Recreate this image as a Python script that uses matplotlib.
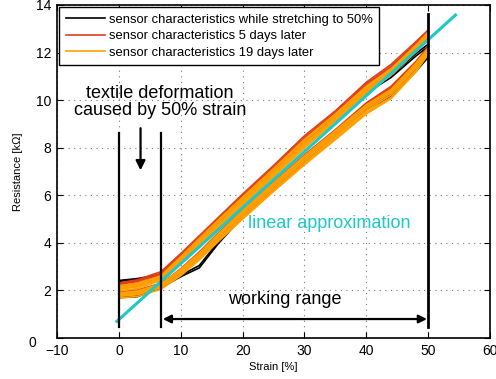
import matplotlib
matplotlib.use('Agg')
import matplotlib.pyplot as plt
import matplotlib.transforms as mtransforms

plt.rcParams['font.family'] = ['Liberation Sans', 'DejaVu Sans']

# strain grid shared by all recorded cycles [%]
strain = [0, 3, 6.8, 10, 13, 16, 20, 25, 30, 35, 40, 44, 48, 50]

# resistance [kOhm] per cycle, upper and lower branch of each loop
black_up = [
    [2.42, 2.50, 2.68, 3.40, 4.15, 4.90, 5.90, 7.10, 8.35, 9.40, 10.40, 11.05, 11.95, 12.35],
    [2.38, 2.46, 2.64, 3.32, 4.08, 4.84, 5.82, 7.02, 8.25, 9.30, 10.30, 10.95, 11.85, 12.25],
]
black_down = [
    [1.70, 1.74, 2.12, 2.58, 2.95, 3.95, 5.10, 6.25, 7.40, 8.50, 9.60, 10.15, 11.20, 11.80],
    [1.76, 1.80, 2.18, 2.64, 3.05, 4.02, 5.15, 6.30, 7.46, 8.56, 9.68, 10.25, 11.30, 11.90],
]
red_up = [
    [2.32, 2.45, 2.79, 3.55, 4.30, 5.05, 6.05, 7.25, 8.50, 9.55, 10.75, 11.50, 12.45, 12.95],
    [2.25, 2.38, 2.72, 3.48, 4.22, 4.98, 5.98, 7.18, 8.42, 9.48, 10.68, 11.42, 12.38, 12.88],
    [2.18, 2.30, 2.65, 3.42, 4.15, 4.92, 5.90, 7.10, 8.34, 9.40, 10.60, 11.35, 12.30, 12.80],
    [2.28, 2.40, 2.70, 3.38, 4.05, 4.78, 5.75, 6.95, 8.15, 9.25, 10.45, 11.20, 12.20, 12.75],
]
red_down = [
    [1.88, 1.95, 2.22, 2.80, 3.45, 4.20, 5.20, 6.40, 7.55, 8.60, 9.75, 10.45, 11.50, 12.15],
    [1.95, 2.02, 2.30, 2.86, 3.52, 4.28, 5.28, 6.46, 7.62, 8.68, 9.82, 10.52, 11.58, 12.22],
    [1.82, 1.88, 2.16, 2.74, 3.40, 4.14, 5.14, 6.34, 7.50, 8.54, 9.68, 10.38, 11.44, 12.08],
    [1.90, 1.98, 2.26, 2.92, 3.62, 4.40, 5.40, 6.56, 7.70, 8.76, 9.88, 10.58, 11.62, 12.25],
]
orange_up = [
    [2.20, 2.30, 2.62, 3.42, 4.18, 4.95, 5.92, 7.12, 8.35, 9.42, 10.58, 11.32, 12.30, 12.85],
    [2.12, 2.22, 2.55, 3.35, 4.10, 4.88, 5.85, 7.05, 8.28, 9.35, 10.50, 11.25, 12.22, 12.78],
    [2.05, 2.15, 2.48, 3.28, 4.03, 4.80, 5.78, 6.98, 8.20, 9.28, 10.44, 11.18, 12.15, 12.70],
    [1.98, 2.08, 2.42, 3.22, 3.96, 4.74, 5.72, 6.92, 8.14, 9.22, 10.38, 11.12, 12.08, 12.62],
    [2.08, 2.18, 2.50, 3.25, 3.92, 4.62, 5.58, 6.78, 7.98, 9.12, 10.30, 11.05, 12.02, 12.58],
    [2.15, 2.25, 2.58, 3.30, 3.98, 4.68, 5.65, 6.85, 8.06, 9.18, 10.36, 11.10, 12.10, 12.66],
]
orange_down = [
    [1.75, 1.82, 2.12, 2.68, 3.35, 4.10, 5.06, 6.22, 7.34, 8.40, 9.48, 10.12, 11.25, 11.98],
    [1.82, 1.90, 2.20, 2.76, 3.42, 4.18, 5.14, 6.30, 7.42, 8.48, 9.56, 10.22, 11.35, 12.05],
    [1.90, 1.98, 2.28, 2.84, 3.50, 4.26, 5.22, 6.38, 7.50, 8.56, 9.64, 10.30, 11.42, 12.12],
    [1.68, 1.75, 2.05, 2.62, 3.28, 4.04, 5.00, 6.16, 7.28, 8.34, 9.42, 10.06, 11.18, 11.92],
    [1.85, 1.94, 2.25, 2.90, 3.58, 4.36, 5.36, 6.52, 7.66, 8.72, 9.80, 10.45, 11.55, 12.18],
    [1.78, 1.86, 2.15, 2.80, 3.48, 4.30, 5.30, 6.45, 7.58, 8.64, 9.72, 10.38, 11.48, 12.10],
]

# linear fit end points
fit_strain = [-0.5, 54.6]
fit_res = [0.66, 13.62]

# vertical markers: start, end of textile deformation, end of working range
mark_x = [0, 6.8, 50]
mark_top = [8.6, 8.6, 13.6]
mark_bottom = 0.45

series = [
    ('sensor characteristics while stretching to 50%', 'black', black_up, black_down),
    ('sensor characteristics 5 days later', '#E03E18', red_up, red_down),
    ('sensor characteristics 19 days later', '#FFA000', orange_up, orange_down),
]

fig = plt.figure(figsize=(4.96, 3.79), dpi=100)
ax = fig.add_axes([0.115, 0.108, 0.873, 0.879])

for label, color, ups, downs in series:
    for i, (up, down) in enumerate(zip(ups, downs)):
        ax.plot(strain, up, color=color, lw=1.2, label=label if i == 0 else None)
        ax.plot(strain, down, color=color, lw=1.2)

ax.plot(fit_strain, fit_res, color='#1CC8C8', lw=2.2, solid_capstyle='butt')

for x, top in zip(mark_x, mark_top):
    ax.plot([x, x], [mark_bottom, top], color='black', lw=2.0 if x == 50 else 1.6)

# arrows
ax.annotate('', xy=(3.5, 7.05), xytext=(3.5, 8.82),
            arrowprops=dict(arrowstyle='-|>', color='black', lw=1.6,
                            mutation_scale=14, shrinkA=0, shrinkB=0))
ax.annotate('', xy=(7.1, 0.8), xytext=(49.8, 0.8),
            arrowprops=dict(arrowstyle='<|-|>', color='black', lw=1.6,
                            mutation_scale=12, shrinkA=0, shrinkB=0))

ax.text(6.6, 9.9, 'textile deformation\ncaused by 50% strain', ha='center',
        va='center', fontsize=13, linespacing=1.0)
ax.text(20.8, 4.83, 'linear approximation', color='#1CC8C8', fontsize=13,
        ha='left', va='center')
ax.text(17.7, 1.6, 'working range', fontsize=13, ha='left', va='center')

ax.set_xlim(-10, 60)
ax.set_ylim(0, 14)
ax.set_xticks(range(-10, 61, 10))
ax.set_yticks(range(0, 15, 2))
ax.tick_params(direction='in', top=True, right=True, length=4, width=0.8,
               labelsize=10, pad=4)
ax.grid(True, color='#777777', lw=0.8, linestyle=(0, (1, 4)))
for sp in ax.spines.values():
    sp.set_linewidth(1.2)

# the zero label on the y axis sits a little left and below its tick
zero_lbl = ax.get_yticklabels()[0]
zero_lbl.set_transform(zero_lbl.get_transform() +
                       mtransforms.ScaledTranslation(-0.15, -0.03, fig.dpi_scale_trans))

ax.set_xlabel('Strain [%]', fontsize=8, labelpad=3)
ax.set_ylabel('Resistance [k\u03a9]', fontsize=8, labelpad=4)

leg = ax.legend(loc='upper left', fontsize=9.4, frameon=True, fancybox=False,
                edgecolor='black', framealpha=1, borderaxespad=0.15,
                borderpad=0.5, labelspacing=0.35, handlelength=3.0,
                handletextpad=0.3)
leg.get_frame().set_linewidth(1.0)

fig.savefig('out.png', dpi=100)
